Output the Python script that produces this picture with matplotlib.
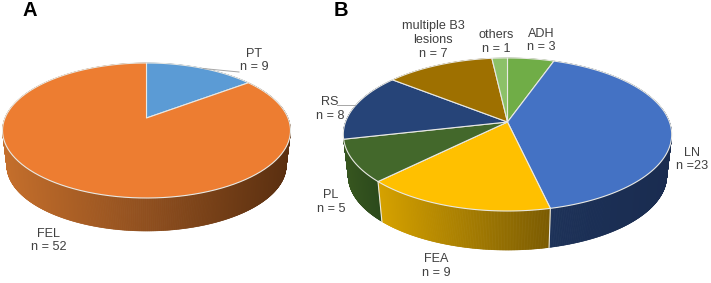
import numpy as np
import matplotlib
matplotlib.use('Agg')
import matplotlib.pyplot as plt
from matplotlib.patches import Polygon

plt.rcParams['font.family'] = ['Liberation Sans', 'DejaVu Sans']

# panel A, clockwise from 12 o'clock
a_names = ['PT', 'FEL']
a_counts = [9, 52]
a_tops = ['#5B9BD5', '#ED7D31']
a_walls = [('#3F6F9C', '#2A4A68'), ('#C56F2C', '#5A2F10')]

# panel B, clockwise from 12 o'clock
b_names = ['ADH', 'LN', 'FEA', 'PL', 'RS', 'multiple B3\nlesions', 'others']
b_counts = [3, 23, 9, 5, 8, 7, 1]
b_tops = ['#70AD47', '#4472C4', '#FFC000', '#43682B', '#264478', '#9E7000', '#8CC168']
b_walls = [('#4E7A32', '#4E7A32'), ('#1C3158', '#1A2C50'), ('#D6A200', '#7A5A00'),
           ('#37561F', '#2C4A1C'), ('#1A2F55', '#1A2F55'), ('#6E4E00', '#6E4E00'),
           ('#5F8748', '#5F8748')]

RIM = '#E9E9E4'
TEXT = '#404040'
FS = 9.1


def project(ang, cx, cy, sx, sy, k):
    # ang: clockwise from the top, in radians
    # perspective view of the unit circle
    u = np.sin(ang)
    v = np.cos(ang)
    w = 1 + k * v
    return cx + sx * u / w, cy - sy * v / w


def draw_pie(ax, counts, tops, walls, cx, cy, sx, sy, k, shrink, cy2):
    total = sum(counts)
    edges = np.cumsum([0] + list(counts)) / total * 2 * np.pi

    # side wall first, built from thin strips, back strips drawn first
    strips = []
    for i in range(len(counts)):
        angs = np.linspace(edges[i], edges[i + 1], max(int(counts[i] * 800 / total), 2) * 2 + 1)
        c0 = np.array(matplotlib.colors.to_rgb(walls[i][0]))
        c1 = np.array(matplotlib.colors.to_rgb(walls[i][1]))
        x_all, _ = project(angs, cx, cy, sx, sy, k)
        span = max(x_all.max() - x_all.min(), 1)
        for a0, a1 in zip(angs[:-1], angs[1:]):
            x0, y0 = project(a0, cx, cy, sx, sy, k)
            x1, y1 = project(a1, cx, cy, sx, sy, k)
            x0b, y0b = project(a0, cx, cy2, sx * shrink, sy * shrink, k)
            x1b, y1b = project(a1, cx, cy2, sx * shrink, sy * shrink, k)
            t = ((x0 + x1) / 2 - x_all.min()) / span
            strips.append((y0 + y1, [(x0, y0), (x1, y1), (x1b, y1b), (x0b, y0b)], c0 + (c1 - c0) * t))
    strips.sort(key=lambda s: s[0])
    for _, pts, col in strips:
        ax.add_patch(Polygon(pts, closed=True, facecolor=col, edgecolor=col, lw=0.4, zorder=2))

    # light seams between the slices on the wall
    for e in edges[1:-1]:
        if np.cos(e) < -0.5:
            x0, y0 = project(e, cx, cy, sx, sy, k)
            x1, y1 = project(e, cx, cy2, sx * shrink, sy * shrink, k)
            ax.plot([x0, x1], [y0, y1], color=RIM, lw=0.8, zorder=3)

    # top face
    for i in range(len(counts)):
        angs = np.linspace(edges[i], edges[i + 1], 120)
        x, y = project(angs, cx, cy, sx, sy, k)
        pts = [(cx, cy)] + list(zip(x, y))
        ax.add_patch(Polygon(pts, closed=True, facecolor=tops[i], edgecolor=RIM, lw=0.8,
                             joinstyle='round', zorder=4))


def label(ax, x, y, s):
    ax.text(x, y, s, fontsize=FS, color=TEXT, ha='center', va='center', linespacing=1.22, zorder=6)


fig = plt.figure(figsize=(7.11, 2.83), dpi=100)
ax = fig.add_axes([0, 0, 1, 1])
ax.set_xlim(0, 711)
ax.set_ylim(283, 0)
ax.axis('off')

draw_pie(ax, a_counts, a_tops, a_walls, 146.5, 118, 141.5, 65.2, 0.185, 0.97, 153.4)
draw_pie(ax, b_counts, b_tops, b_walls, 507.5, 122, 162, 74.5, 0.163, 0.97, 163.7)

# leader lines
ax.plot([203, 239], [68.5, 72], color='#A6A6A6', lw=0.7, zorder=5)
ax.plot([337, 355], [105, 105], color='#A6A6A6', lw=0.7, zorder=5)

ax.text(30, 11, 'A', fontsize=14.5, fontweight='bold', color='black', ha='center', va='center')
ax.text(341, 11, 'B', fontsize=14.5, fontweight='bold', color='black', ha='center', va='center')

label(ax, 254, 60.5, f'{a_names[0]}\nn = {a_counts[0]}')
label(ax, 48.5, 240.5, f'{a_names[1]}\nn = {a_counts[1]}')

label(ax, 541, 40.5, f'{b_names[0]}\nn = {b_counts[0]}')
label(ax, 692, 159.5, f'{b_names[1]}\nn ={b_counts[1]}')
label(ax, 436, 266, f'{b_names[2]}\nn = {b_counts[2]}')
label(ax, 331, 202, f'{b_names[3]}\nn = {b_counts[3]}')
label(ax, 330, 109, f'{b_names[4]}\nn = {b_counts[4]}')
label(ax, 433, 40, f'{b_names[5]}\nn = {b_counts[5]}')
label(ax, 496, 42, f'{b_names[6]}\nn = {b_counts[6]}')

fig.savefig('out.png', dpi=100)
